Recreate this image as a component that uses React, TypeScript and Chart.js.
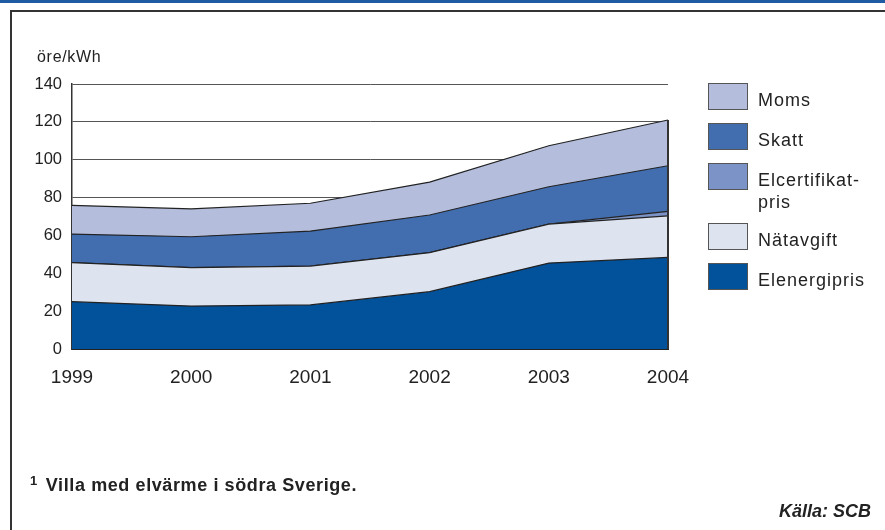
import React, { useEffect, useRef } from "react";
import { Chart, registerables } from "chart.js";

Chart.register(...registerables);

// Electricity price components for a detached house, öre/kWh
const years = ["1999", "2000", "2001", "2002", "2003", "2004"];
const elenergipris = [25, 22.7, 23.3, 30.3, 45.4, 48.4];
const natavgift = [20.6, 20.3, 20.5, 20.6, 20.6, 21.9];
const elcertifikatpris = [0, 0, 0, 0, 0, 2.4];
const skatt = [15.1, 16.3, 18.5, 19.9, 19.7, 24.1];
const moms = [15.2, 14.7, 14.7, 17.4, 21.7, 24.2];

const yMin = 0;
const yMax = 140;
const yStep = 20;

const FONT = '"Liberation Sans", Arial, Helvetica, sans-serif';

const COLORS = {
  elenergipris: "#01519b",
  natavgift: "#dde3ef",
  elcertifikatpris: "#7b93c6",
  skatt: "#426daf",
  moms: "#b4bedc",
};

// Legend order top to bottom
const legendItems = [
  { label: "Moms", color: COLORS.moms, top: 83 },
  { label: "Skatt", color: COLORS.skatt, top: 123 },
  { label: "Elcertifikat-\npris", color: COLORS.elcertifikatpris, top: 163 },
  { label: "Nätavgift", color: COLORS.natavgift, top: 223 },
  { label: "Elenergipris", color: COLORS.elenergipris, top: 263 },
];

const allSeries = [elenergipris, natavgift, elcertifikatpris, skatt, moms];

// Closes the stacked area on its right side
const rightEdge = {
  id: "rightEdge",
  afterDatasetsDraw(chart: any) {
    const { ctx, chartArea, scales } = chart;
    const y = scales.y;
    const total = allSeries.reduce((s, arr) => s + arr[arr.length - 1], 0);
    ctx.save();
    ctx.strokeStyle = "#333";
    ctx.lineWidth = 2;
    ctx.beginPath();
    ctx.moveTo(chartArea.right, y.getPixelForValue(0));
    ctx.lineTo(chartArea.right, y.getPixelForValue(total));
    ctx.stroke();
    ctx.restore();
  },
};

export default function App() {
  const canvasRef = useRef<HTMLCanvasElement | null>(null);

  useEffect(() => {
    if (!canvasRef.current) return;
    const mk = (label: string, data: number[], color: string, fill: any) => ({
      label,
      data,
      backgroundColor: color,
      borderColor: "#222",
      borderWidth: 1.2,
      fill,
      pointRadius: 0,
      tension: 0,
    });
    const chart = new Chart(canvasRef.current, {
      type: "line",
      data: {
        labels: years,
        datasets: [
          mk("Elenergipris", elenergipris, COLORS.elenergipris, "origin"),
          mk("Nätavgift", natavgift, COLORS.natavgift, "-1"),
          mk("Elcertifikatpris", elcertifikatpris, COLORS.elcertifikatpris, "-1"),
          mk("Skatt", skatt, COLORS.skatt, "-1"),
          mk("Moms", moms, COLORS.moms, "-1"),
        ],
      },
      plugins: [rightEdge],
      options: {
        animation: false,
        responsive: false,
        maintainAspectRatio: false,
        layout: { padding: { left: 0, right: 217, top: 84, bottom: 141 } },
        plugins: {
          legend: { display: false },
          tooltip: { enabled: false },
        },
        scales: {
          x: {
            offset: false,
            grid: { display: false },
            border: { display: true, color: "#222", width: 2 },
            ticks: {
              color: "#222",
              font: { family: FONT, size: 19 },
              padding: 9,
              maxRotation: 0,
            },
            afterFit: (s: any) => {
              s.height = 40;
            },
          },
          y: {
            stacked: true,
            min: yMin,
            max: yMax,
            grid: { color: "#555", lineWidth: 1, drawTicks: false },
            border: { display: true, color: "#333", width: 1.5 },
            ticks: {
              stepSize: yStep,
              color: "#222",
              font: { family: FONT, size: 16.5 },
              padding: 10,
            },
            afterFit: (s: any) => {
              s.width = 72;
            },
          },
        },
      },
    });
    return () => chart.destroy();
  }, []);

  return (
    <div
      style={{
        position: "fixed",
        left: 0,
        top: 0,
        width: 885,
        height: 530,
        background: "#fff",
        fontFamily: FONT,
        color: "#222",
        overflow: "hidden",
      }}
    >
      <div style={{ position: "absolute", left: 0, top: 0, width: 885, height: 3, background: "#1f5ba3" }} />
      <div
        style={{
          position: "absolute",
          left: 10,
          top: 10,
          width: 900,
          height: 540,
          borderTop: "2px solid #333",
          borderLeft: "2px solid #333",
        }}
      />
      <canvas ref={canvasRef} width={885} height={530} style={{ position: "absolute", left: 0, top: 0 }} />
      <div style={{ position: "absolute", left: 37, top: 47, fontSize: 16, letterSpacing: 0.7, lineHeight: "20px" }}>
        öre/kWh
      </div>
      {legendItems.map((it) => (
        <React.Fragment key={it.label}>
          <div
            style={{
              position: "absolute",
              left: 708,
              top: it.top,
              width: 38,
              height: 25,
              background: it.color,
              border: "1.5px solid #555",
            }}
          />
          <div
            style={{
              position: "absolute",
              left: 758,
              top: it.top + 5.5,
              fontSize: 18,
              letterSpacing: 1,
              lineHeight: "22px",
              whiteSpace: "pre",
            }}
          >
            {it.label}
          </div>
        </React.Fragment>
      ))}
      <div
        style={{
          position: "absolute",
          left: 30,
          top: 470,
          fontSize: 18,
          fontWeight: 700,
          letterSpacing: 0.6,
          lineHeight: "22px",
          whiteSpace: "nowrap",
        }}
      >
        <sup style={{ fontSize: 13, verticalAlign: "6px", marginRight: 8 }}>1</sup>Villa med elvärme i södra Sverige.
      </div>
      <div
        style={{
          position: "absolute",
          right: 14,
          top: 500,
          fontSize: 18,
          fontWeight: 700,
          fontStyle: "italic",
          lineHeight: "22px",
          whiteSpace: "nowrap",
        }}
      >
        Källa: SCB
      </div>
    </div>
  );
}
